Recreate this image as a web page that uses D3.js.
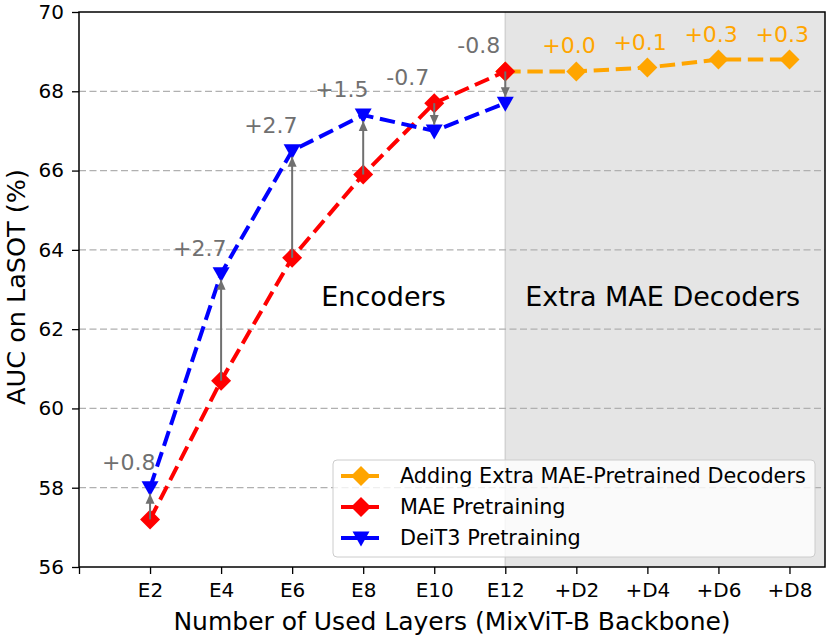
<!DOCTYPE html>
<html>
<head>
<meta charset="utf-8">
<script src="https://cdn.jsdelivr.net/npm/d3@7"></script>
<style>
  body { margin: 0; background: #fff; }
  svg text { font-family: "DejaVu Sans", sans-serif; }
</style>
</head>
<body>
<div id="chart"></div>
<script>
// categories along the x axis (first slot is an empty tick at the spine)
var layerLabels = ["", "E2", "E4", "E6", "E8", "E10", "E12", "+D2", "+D4", "+D6", "+D8"];
var yTicks = [56, 58, 60, 62, 64, 66, 68, 70];

// series values
var maeLayers = ["E2", "E4", "E6", "E8", "E10", "E12"];
var maeAuc = [57.2, 60.7, 63.8, 65.9, 67.7, 68.5];
var deitAuc = [58.0, 63.4, 66.5, 67.4, 67.0, 67.7];
var gainLabels = ["+0.8", "+2.7", "+2.7", "+1.5", "-0.7", "-0.8"];

var decLayers = ["E12", "+D2", "+D4", "+D6", "+D8"];
var decAuc = [68.5, 68.5, 68.6, 68.8, 68.8];
var decLabels = ["", "+0.0", "+0.1", "+0.3", "+0.3"];

var legendNames = ["Adding Extra MAE-Pretrained Decoders", "MAE Pretraining", "DeiT3 Pretraining"];

// dimensions
var margin = { top: 12, right: 6, bottom: 71, left: 79 },
  W = 831, H = 638,
  width = W - margin.left - margin.right,
  height = H - margin.top - margin.bottom;

var svg = d3.select("#chart").append("svg")
  .attr("width", W).attr("height", H);

var g = svg.append("g")
  .attr("transform", "translate(" + margin.left + "," + margin.top + ")");

var x = d3.scaleLinear().domain([0, 10.5]).range([0, width]);
var y = d3.scaleLinear().domain([56, 70]).range([height, 0]);
function xi(lbl) { return x(layerLabels.indexOf(lbl)); }

var grey = "#707070";

// arrow head
svg.append("defs").append("marker")
  .attr("id", "head")
  .attr("viewBox", "0 0 10 10")
  .attr("refX", 10).attr("refY", 5)
  .attr("markerWidth", 10).attr("markerHeight", 10)
  .attr("markerUnits", "userSpaceOnUse")
  .attr("orient", "auto")
  .append("path").attr("d", "M0,0.5 L10,5 L0,9.5 Z").attr("fill", grey);

// shaded decoder region
g.append("rect")
  .attr("x", x(6)).attr("y", 0)
  .attr("width", x(10.5) - x(6)).attr("height", height)
  .attr("fill", "#e5e5e5");
g.append("line")
  .attr("x1", x(6)).attr("x2", x(6)).attr("y1", 0).attr("y2", height)
  .attr("stroke", "#d2d2d2").attr("stroke-width", 1.5);

// grid
g.selectAll(".grid").data(yTicks.slice(1, -1)).enter().append("line")
  .attr("x1", 0).attr("x2", width)
  .attr("y1", function(d) { return y(d); }).attr("y2", function(d) { return y(d); })
  .attr("stroke", "#b0b0b0").attr("stroke-width", 1.2)
  .attr("stroke-dasharray", "7,3.5");

// region texts
g.append("text").attr("x", x(3.41)).attr("y", y(62.58))
  .attr("font-size", 27).attr("fill", "#000").text("Encoders");
g.append("text").attr("x", x(6.28)).attr("y", y(62.58))
  .attr("font-size", 27).attr("fill", "#000").text("Extra MAE Decoders");

// lines
var line = d3.line().x(function(d) { return xi(d[0]); }).y(function(d) { return y(d[1]); });
var series = [
  { name: legendNames[0], color: "orange", sym: "dia", pts: d3.zip(decLayers, decAuc) },
  { name: legendNames[1], color: "red", sym: "dia", pts: d3.zip(maeLayers, maeAuc) },
  { name: legendNames[2], color: "blue", sym: "tri", pts: d3.zip(maeLayers, deitAuc) }
];

function drawMarker(sel, s) {
  if (s.sym === "tri") {
    sel.append("path").attr("d", "M-8.5,-6.5 L8.5,-6.5 L0,8.5 Z").attr("fill", s.color);
  } else {
    sel.append("path").attr("d", "M0,-10 L10,0 L0,10 L-10,0 Z").attr("fill", s.color);
  }
}

series.forEach(function(s) {
  g.append("path").datum(s.pts)
    .attr("d", line)
    .attr("fill", "none")
    .attr("stroke", s.color)
    .attr("stroke-width", 4)
    .attr("stroke-dasharray", "15.4,6.7");
  g.selectAll(".m-" + s.color).data(s.pts).enter().append("g")
    .attr("transform", function(d) { return "translate(" + xi(d[0]) + "," + y(d[1]) + ")"; })
    .each(function() { drawMarker(d3.select(this), s); });
});

// gain arrows MAE -> DeiT3
maeLayers.forEach(function(l, i) {
  var y0 = y(maeAuc[i]), y1 = y(deitAuc[i]);
  var dir = y1 < y0 ? 1 : -1;
  g.append("line")
    .attr("x1", xi(l)).attr("x2", xi(l))
    .attr("y1", y0).attr("y2", y1 + dir * 6)
    .attr("stroke", grey).attr("stroke-width", 2)
    .attr("marker-end", "url(#head)");
  g.append("text")
    .attr("x", xi(l) - 48)
    .attr("y", y(Math.max(maeAuc[i], deitAuc[i])) - 18)
    .attr("font-size", 22).attr("fill", grey)
    .text(gainLabels[i]);
});

// decoder gain labels
decLayers.forEach(function(l, i) {
  if (!decLabels[i]) return;
  g.append("text")
    .attr("x", xi(l) - 34)
    .attr("y", y(decAuc[i]) - 18)
    .attr("font-size", 22).attr("fill", "orange")
    .text(decLabels[i]);
});

// axes
var xAxis = g.append("g").attr("transform", "translate(0," + height + ")")
  .call(d3.axisBottom(x).tickValues(d3.range(layerLabels.length))
    .tickFormat(function(d) { return layerLabels[d]; })
    .tickSize(7).tickPadding(9));
var yAxis = g.append("g")
  .call(d3.axisLeft(y).tickValues(yTicks).tickSize(7).tickPadding(8));
[xAxis, yAxis].forEach(function(a) {
  a.select(".domain").remove();
  a.selectAll("line").attr("stroke", "#000").attr("stroke-width", 1.3);
  a.selectAll("text").attr("font-size", 20).attr("fill", "#000")
    .style("font-family", "DejaVu Sans");
});

// frame
g.append("rect").attr("x", 0).attr("y", 0).attr("width", width).attr("height", height)
  .attr("fill", "none").attr("stroke", "#000").attr("stroke-width", 1.5);

// axis labels
svg.append("text")
  .attr("x", 452).attr("y", 630)
  .attr("text-anchor", "middle").attr("font-size", 25)
  .text("Number of Used Layers (MixViT-B Backbone)");
svg.append("text")
  .attr("transform", "translate(25,287) rotate(-90)")
  .attr("text-anchor", "middle").attr("font-size", 25.5)
  .text("AUC on LaSOT (%)");

// legend
var lg = svg.append("g").attr("transform", "translate(333,460)");
lg.append("rect").attr("width", 482).attr("height", 97).attr("rx", 4)
  .attr("fill", "#fff").attr("fill-opacity", 0.8)
  .attr("stroke", "#cccccc").attr("stroke-width", 1);
series.forEach(function(s, i) {
  var row = lg.append("g").attr("transform", "translate(0," + (16 + i * 31) + ")");
  row.append("line").attr("x1", 8).attr("x2", 46).attr("y1", 0).attr("y2", 0)
    .attr("stroke", s.color).attr("stroke-width", 4);
  drawMarker(row.append("g").attr("transform", "translate(28,0)"), s);
  row.append("text").attr("x", 67).attr("y", 7).attr("font-size", 20.8).text(s.name);
});
</script>
</body>
</html>
